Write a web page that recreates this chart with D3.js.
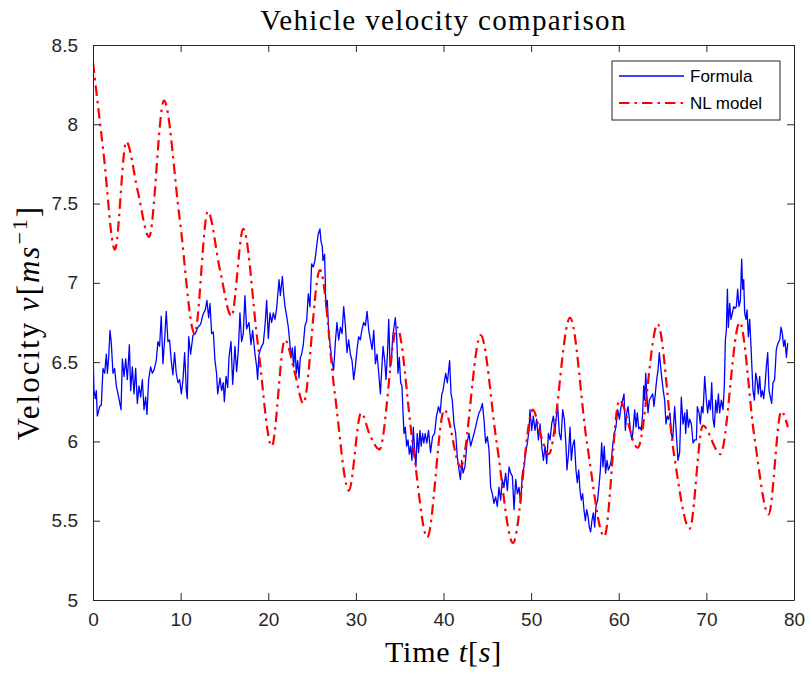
<!DOCTYPE html>
<html>
<head>
<meta charset="utf-8">
<script src="https://cdn.jsdelivr.net/npm/d3@7"></script>
<style>
  html, body { margin: 0; padding: 0; background: #fff; }
  svg { display: block; }
</style>
</head>
<body>
<div id="chart"></div>
<script>
// Vehicle velocity comparison: measured "Formula" vs "NL model"

const xTicks = [0, 10, 20, 30, 40, 50, 60, 70, 80];
const yTicks = [5, 5.5, 6, 6.5, 7, 7.5, 8, 8.5];
const seriesNames = ['Formula', 'NL model'];

// [time s, velocity m/s]
const formulaPoints = [
  [0,6.58],[0.11,6.32],[0.27,6.27],[0.38,6.32],[0.49,6.16],[0.76,6.22],[0.95,6.23],[1.14,6.46],[1.33,6.43],[1.52,6.55],
  [1.64,6.43],[1.79,6.53],[1.94,6.70],[2.09,6.62],[2.28,6.43],[2.47,6.46],[2.66,6.35],[2.93,6.28],[3.2,6.20],[3.35,6.52],
  [3.54,6.41],[3.73,6.52],[3.92,6.39],[4.15,6.61],[4.3,6.32],[4.49,6.47],[4.68,6.30],[4.87,6.46],[5.06,6.24],[5.25,6.35],
  [5.44,6.28],[5.63,6.39],[5.82,6.20],[6.01,6.28],[6.16,6.17],[6.35,6.39],[6.58,6.47],[6.77,6.43],[6.96,6.45],[7.22,6.51],
  [7.41,6.63],[7.6,6.60],[7.79,6.79],[7.98,6.49],[8.17,6.64],[8.36,6.82],[8.55,6.63],[8.74,6.64],[8.93,6.51],[9.12,6.42],
  [9.31,6.56],[9.5,6.43],[9.7,6.37],[9.89,6.39],[10.08,6.30],[10.27,6.39],[10.46,6.56],[10.65,6.32],[10.76,6.27],[10.92,6.66],
  [11.14,6.55],[11.41,6.67],[11.68,6.68],[11.98,6.72],[12.29,6.74],[12.55,6.80],[12.82,6.83],[13.0,6.89],[13.2,6.78],
  [13.35,6.87],[13.54,6.68],[13.73,6.69],[13.92,6.51],[14.1,6.43],[14.23,6.30],[14.49,6.40],[14.68,6.32],[14.87,6.37],[14.99,6.25],
  [15.18,6.41],[15.37,6.34],[15.52,6.53],[15.75,6.63],[15.94,6.36],[16.2,6.60],[16.39,6.44],[16.58,6.57],[16.77,6.81],[16.96,6.63],
  [17.15,6.68],[17.34,6.92],[17.53,6.71],[17.8,6.75],[18.03,6.61],[18.22,6.70],[18.49,6.55],[18.68,6.47],[18.79,6.39],[18.94,6.55],
  [19.17,6.59],[19.44,6.62],[19.63,6.73],[19.82,6.89],[20.01,6.65],[20.2,6.81],[20.39,6.75],[20.58,6.81],[20.77,6.77],[20.96,6.84],
  [21.23,7.02],[21.38,6.92],[21.61,7.04],[21.76,6.93],[21.91,6.85],[22.1,6.79],[22.29,6.72],[22.48,6.61],[22.6,6.53],[22.75,6.59],
  [22.9,6.47],[23.05,6.60],[23.2,6.43],[23.36,6.51],[23.51,6.40],[23.66,6.53],[23.81,6.55],[24.0,6.61],[24.19,6.73],[24.38,6.76],
  [24.57,6.93],[24.76,6.85],[24.95,7.12],[25.14,7.10],[25.33,7.14],[25.52,7.23],[25.71,7.31],[25.9,7.34],[26.02,7.26],[26.17,7.23],
  [26.24,7.14],[26.43,7.18],[26.58,6.85],[26.74,6.89],[26.89,6.70],[27.08,6.60],[27.27,6.51],[27.46,6.45],[27.65,6.62],[27.84,6.75],
  [28.04,6.64],[28.23,6.72],[28.42,6.68],[28.61,6.85],[28.8,6.73],[28.99,6.56],[29.18,6.64],[29.37,6.55],[29.56,6.51],[29.75,6.39],
  [29.94,6.47],[30.13,6.58],[30.32,6.66],[30.51,6.64],[30.71,6.71],[30.9,6.75],[31.09,6.73],[31.28,6.82],[31.47,6.70],[31.66,6.64],
  [31.85,6.58],[32.04,6.70],[32.23,6.49],[32.42,6.55],[32.61,6.43],[32.8,6.30],[32.91,6.41],[33.1,6.60],[33.29,6.51],[33.44,6.39],
  [33.6,6.55],[33.75,6.77],[33.9,6.47],[34.05,6.50],[34.2,6.66],[34.35,6.72],[34.5,6.78],[34.66,6.66],[34.81,6.43],[34.96,6.53],
  [35.11,6.37],[35.26,6.35],[35.38,6.18],[35.49,6.05],[35.64,6.09],[35.79,5.97],[35.95,6.01],[36.1,5.92],[36.25,5.97],[36.4,5.88],
  [36.55,6.09],[36.7,5.95],[36.85,5.84],[37.0,6.05],[37.16,5.93],[37.31,6.07],[37.46,5.97],[37.61,6.05],[37.76,5.99],[37.91,6.05],
  [38.1,5.99],[38.29,6.07],[38.52,5.93],[38.75,6.03],[38.98,6.05],[39.2,6.16],[39.43,6.22],[39.62,6.18],[39.81,6.30],
  [39.94,6.32],[40.25,6.43],[40.44,6.37],[40.7,6.51],[40.86,6.30],[41.0,6.26],[41.2,6.11],[41.39,6.05],[41.58,5.90],[41.77,5.82],
  [41.93,5.76],[42.08,5.88],[42.23,5.80],[42.45,5.84],[42.68,5.99],[42.91,6.05],[43.1,5.97],[43.29,6.01],[43.48,6.05],[43.67,6.09],
  [43.86,6.14],[44.05,6.18],[44.24,6.20],[44.43,6.24],[44.62,6.14],[44.81,5.99],[45.0,6.03],[45.19,5.95],[45.38,5.71],[45.57,5.67],
  [45.76,5.61],[45.95,5.65],[46.14,5.59],[46.33,5.71],[46.52,5.63],[46.71,5.76],[46.9,5.71],[47.09,5.80],[47.29,5.69],[47.48,5.84],
  [47.67,5.80],[47.86,5.78],[48.05,5.57],[48.24,5.76],[48.43,5.67],[48.62,5.71],[48.81,5.61],[49.0,5.80],[49.19,5.84],[49.38,5.93],
  [49.57,5.99],[49.76,6.07],[49.87,6.20],[50.06,6.07],[50.25,6.16],[50.44,6.07],[50.63,6.14],[50.83,6.01],[51.02,6.11],[51.21,5.97],
  [51.4,5.88],[51.59,5.97],[51.78,5.86],[51.97,6.05],[52.16,6.01],[52.35,6.11],[52.54,6.16],[52.73,6.05],
  [52.84,6.14],[53.03,6.22],[53.22,6.05],[53.41,6.01],[53.6,6.20],[53.79,6.14],[53.98,5.97],[54.09,5.82],[54.28,5.93],[54.44,6.09],
  [54.59,5.88],[54.74,5.97],[54.93,6.01],[55.12,5.82],[55.27,5.74],[55.43,5.82],[55.58,5.69],[55.73,5.63],[55.88,5.67],[56.03,5.57],
  [56.19,5.50],[56.34,5.57],[56.49,5.53],[56.64,5.46],[56.79,5.43],[56.94,5.50],[57.1,5.55],[57.25,5.46],[57.4,5.59],[57.59,5.63],
  [57.78,5.74],[57.9,5.82],[58.05,5.99],[58.2,5.84],[58.35,5.97],[58.5,5.80],[58.66,5.88],[58.81,5.82],[58.96,5.84],[59.15,5.88],
  [59.3,5.97],[59.49,6.05],[59.68,6.09],[59.88,6.20],[60.07,6.14],[60.26,6.22],[60.45,6.26],[60.6,6.30],[60.75,6.07],[60.91,6.18],
  [61.06,6.22],[61.21,6.14],[61.36,6.05],[61.51,6.01],[61.67,6.09],[61.82,6.20],[61.97,6.09],[62.12,6.18],[62.28,6.08],[62.43,6.09],
  [62.58,6.07],[62.73,6.18],[62.85,6.35],[62.96,6.26],[63.08,6.43],[63.19,6.30],[63.34,6.18],[63.49,6.26],[63.68,6.28],[63.87,6.30],
  [64.02,6.22],[64.17,6.30],[64.33,6.39],[64.48,6.45],[64.63,6.56],[64.78,6.47],[64.93,6.39],[65.08,6.32],[65.24,6.26],[65.39,6.11],
  [65.54,6.16],[65.69,6.14],[65.84,6.18],[66.0,6.05],[66.15,6.01],
  [66.38,6.22],[66.57,6.05],[66.76,5.88],[66.95,5.93],[67.14,6.28],[67.33,6.11],[67.53,6.18],[67.64,6.05],[67.79,6.20],[67.95,6.09],
  [68.1,6.14],[68.29,6.11],[68.48,5.99],[68.67,6.01],[68.86,6.01],[68.97,6.22],[69.16,6.18],[69.31,6.11],[69.46,6.22],[69.62,6.18],
  [69.81,6.41],[70.0,6.26],[70.15,6.18],[70.3,6.26],[70.46,6.20],[70.61,6.37],[70.76,6.14],[70.91,6.09],[71.07,6.26],[71.22,6.18],
  [71.37,6.30],[71.52,6.18],[71.71,6.26],[71.9,6.20],[72.05,6.35],[72.17,6.64],[72.28,6.70],[72.4,6.96],[72.51,6.72],[72.66,6.87],
  [72.81,6.77],[72.97,6.81],[73.12,6.85],[73.27,6.84],[73.42,6.85],[73.57,6.96],[73.72,6.85],[73.88,6.89],[74.03,7.15],[74.14,6.96],
  [74.26,7.02],[74.37,6.81],[74.52,6.77],[74.64,6.83],[74.79,6.66],[74.94,6.77],[75.09,6.60],[75.21,6.45],[75.32,6.32],[75.48,6.26],
  [75.63,6.43],[75.78,6.39],[75.93,6.30],[76.08,6.41],[76.24,6.28],[76.39,6.32],[76.54,6.27],[76.69,6.35],[76.84,6.47],[77.0,6.56],
  [77.15,6.32],[77.3,6.28],[77.45,6.24],[77.6,6.37],[77.79,6.39],[77.98,6.58],[78.17,6.62],[78.37,6.64],[78.52,6.72],[78.67,6.68],
  [78.82,6.60],[78.97,6.64],[79.13,6.53],[79.28,6.62]
];

const nlPoints = [
  [0,8.39],[1.2,7.82],[2.5,7.21],[3.8,7.89],[5.1,7.58],[6.4,7.29],[8.1,8.15],[9.9,7.40],[11.6,6.68],[13.1,7.45],
  [14.5,7.08],[15.8,6.79],[17.15,7.34],[18.8,6.62],[20.4,5.97],[21.9,6.64],[23.0,6.44],[24.0,6.24],[25.9,7.08],[27.6,6.30],
  [29.2,5.69],[30.6,6.18],[31.6,6.04],[32.7,5.95],[34.7,6.72],[36.5,5.98],[38.15,5.395],[40.1,6.20],[41.96,5.84],[44.24,6.67],
  [46.1,5.98],[47.93,5.36],[50.2,6.20],[51.1,6.04],[52.0,5.92],[54.44,6.78],[56.4,5.98],[58.35,5.40],[60.07,6.26],[62.16,5.96],
  [64.44,6.74],[66.3,5.92],[68.1,5.45],[69.6,6.10],[71.6,5.92],[73.8,6.75],[75.5,6.02],[77.1,5.54],[78.55,6.19],[79.3,6.09]
];

const width = 811, height = 675;
const margin = { top: 45, right: 17, bottom: 75, left: 93 };
const axisColor = '#262626';
const tickLen = 7;

const svg = d3.select('#chart').append('svg')
  .attr('width', width)
  .attr('height', height);

const x = d3.scaleLinear().domain([0, 80]).range([margin.left, width - margin.right]);
const y = d3.scaleLinear().domain([5, 8.5]).range([height - margin.bottom, margin.top]);

svg.append('defs').append('clipPath').attr('id', 'plot-clip')
  .append('rect')
  .attr('x', x(0)).attr('y', y(8.5))
  .attr('width', x(80) - x(0)).attr('height', y(5) - y(8.5));

// lines
const plot = svg.append('g').attr('clip-path', 'url(#plot-clip)');

plot.append('path')
  .datum(formulaPoints)
  .attr('fill', 'none')
  .attr('stroke', '#0000ff')
  .attr('stroke-width', 1.3)
  .attr('stroke-linejoin', 'round')
  .attr('d', d3.line().x(d => x(d[0])).y(d => y(d[1])));

plot.append('path')
  .datum(nlPoints)
  .attr('fill', 'none')
  .attr('stroke', '#ff0000')
  .attr('stroke-width', 2.2)
  .attr('stroke-dasharray', '10.5,5,2.5,5')
  .attr('d', d3.line().x(d => x(d[0])).y(d => y(d[1])).curve(d3.curveMonotoneX));

// axes (ticks inside, box on)
const tickFamily = '"Liberation Sans", Arial, sans-serif';
const tickSize = 19;

const axisBottomG = svg.append('g').attr('transform', `translate(0,${y(5)})`)
  .call(d3.axisBottom(x).tickValues(xTicks).tickSizeInner(-tickLen).tickSizeOuter(0).tickPadding(tickLen + 6));
const axisTopG = svg.append('g').attr('transform', `translate(0,${y(8.5)})`)
  .call(d3.axisTop(x).tickValues(xTicks).tickSizeInner(-tickLen).tickSizeOuter(0).tickFormat(''));
const axisLeftG = svg.append('g').attr('transform', `translate(${x(0)},0)`)
  .call(d3.axisLeft(y).tickValues(yTicks).tickSizeInner(-tickLen).tickSizeOuter(0).tickPadding(tickLen + 8).tickFormat(d3.format('')));
const axisRightG = svg.append('g').attr('transform', `translate(${x(80)},0)`)
  .call(d3.axisRight(y).tickValues(yTicks).tickSizeInner(-tickLen).tickSizeOuter(0).tickFormat(''));

[axisBottomG, axisTopG, axisLeftG, axisRightG].forEach(ax => {
  ax.select('.domain').attr('stroke', axisColor).attr('stroke-width', 1);
  ax.selectAll('.tick line').attr('stroke', axisColor).attr('stroke-width', 1);
  ax.selectAll('.tick text')
    .attr('fill', axisColor)
    .style('font-family', tickFamily)
    .style('font-size', tickSize + 'px');
});

// title and axis labels
const serif = '"Liberation Serif", "Times New Roman", serif';

svg.append('text')
  .attr('x', (x(0) + x(80)) / 2)
  .attr('y', 30)
  .attr('text-anchor', 'middle')
  .style('font-family', serif)
  .style('font-size', '29px')
  .style('letter-spacing', '1.35px')
  .attr('fill', '#000')
  .text('Vehicle velocity comparison');

const xl = svg.append('text')
  .attr('x', (x(0) + x(80)) / 2)
  .attr('y', 662)
  .attr('text-anchor', 'middle')
  .style('font-family', serif)
  .style('font-size', '30px')
  .style('letter-spacing', '0.8px')
  .attr('fill', '#000');
xl.append('tspan').text('Time ');
xl.append('tspan').style('font-style', 'italic').text('t');
xl.append('tspan').text('[');
xl.append('tspan').style('font-style', 'italic').text('s');
xl.append('tspan').text(']');

const yl = svg.append('text')
  .attr('transform', `translate(39,${(y(5) + y(8.5)) / 2}) rotate(-90)`)
  .attr('text-anchor', 'middle')
  .style('font-family', serif)
  .style('font-size', '31px')
  .style('letter-spacing', '2px')
  .attr('fill', '#000');
yl.append('tspan').text('Velocity ');
yl.append('tspan').style('font-style', 'italic').text('v');
yl.append('tspan').text('[');
yl.append('tspan').style('font-style', 'italic').text('ms');
yl.append('tspan').attr('dy', -12).style('font-size', '22px').text('\u22121');
yl.append('tspan').attr('dy', 12).text(']');

// legend
const legend = svg.append('g').attr('transform', 'translate(612,61)');
legend.append('rect')
  .attr('width', 168).attr('height', 59)
  .attr('fill', '#fff')
  .attr('stroke', axisColor)
  .attr('stroke-width', 1);

const legendStyles = [
  { color: '#0000ff', width: 1.3, dash: null },
  { color: '#ff0000', width: 2.2, dash: '10.5,5,2.5,5' }
];
seriesNames.forEach((name, i) => {
  const row = legend.append('g').attr('transform', `translate(0,${15 + i * 27})`);
  row.append('line')
    .attr('x1', 7).attr('x2', 72)
    .attr('stroke', legendStyles[i].color)
    .attr('stroke-width', legendStyles[i].width)
    .attr('stroke-dasharray', legendStyles[i].dash);
  row.append('text')
    .attr('x', 78).attr('y', 6)
    .style('font-family', tickFamily)
    .style('font-size', '17px')
    .attr('fill', '#000')
    .text(name);
});
</script>
</body>
</html>
